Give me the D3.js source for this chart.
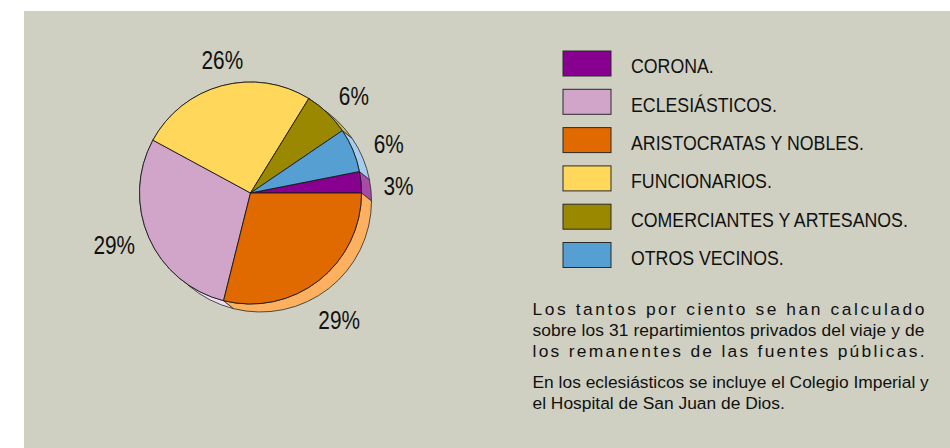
<!DOCTYPE html>
<html>
<head>
<meta charset="utf-8">
<script src="https://cdn.jsdelivr.net/npm/d3@7"></script>
<style>
  html, body { margin: 0; padding: 0; background: #ffffff; }
  svg { display: block; }
  text { font-family: "Liberation Sans", Arial, Helvetica, sans-serif; }
</style>
</head>
<body>
<svg id="chart" width="950" height="448"></svg>
<script>
// ---------- data (legend order) ----------
const categories = ["CORONA.", "ECLESIÁSTICOS.", "ARISTOCRATAS Y NOBLES.", "FUNCIONARIOS.", "COMERCIANTES Y ARTESANOS.", "OTROS VECINOS."];
const values = [3.1, 29.0, 28.9, 25.9, 6.7, 6.4];
const pctLabels = ["3%", "29%", "29%", "26%", "6%", "6%"];
const pieOrder = [2, 1, 3, 4, 5, 0];   // clockwise order of slices starting at 3 o'clock
const noteParagraphs = [
  ["Los tantos por ciento se han calculado",
   "sobre los 31 repartimientos privados del viaje y de",
   "los remanentes de las fuentes públicas."],
  ["En los eclesiásticos se incluye el Colegio Imperial y",
   "el Hospital de San Juan de Dios."]
];

// ---------- styles ----------
const topColors  = ["#87008f", "#d1a5c9", "#e06900", "#ffd75a", "#9a8800", "#559fd2"];
const sideColors = ["#a64ca6", "#ecdcf2", "#fdb060", "#ffe58c", "#c8bb50", "#a9cbec"];

const svg = d3.select("#chart");
const W = 950, H = 448;

// panel background
svg.append("rect").attr("x", 24).attr("y", 11).attr("width", W - 24).attr("height", H - 11)
   .attr("fill", "#cfd0c2");

// ---------- pie ----------
const cx = 250.5, cy = 193, R = 111;
const depth = [10, 8];
const data = values.map((v, i) => ({ i, v }));
const pie = d3.pie().value(d => d.v)
  .sort((a, b) => pieOrder.indexOf(a.i) - pieOrder.indexOf(b.i))
  .startAngle(Math.PI / 2).endAngle(Math.PI / 2 + 2 * Math.PI);
const arcs = pie(data);
const arcGen = d3.arc().innerRadius(0).outerRadius(R);

const g = svg.append("g");
// side walls (extrusion)
const pt = (a, ox, oy) => [cx + ox + R * Math.sin(a), cy + oy - R * Math.cos(a)];
arcs.forEach(a => {
  const p = d3.path();
  const p0 = pt(a.startAngle, 0, 0);
  p.moveTo(p0[0], p0[1]);
  p.arc(cx, cy, R, a.startAngle - Math.PI / 2, a.endAngle - Math.PI / 2, false);
  const p1 = pt(a.endAngle, depth[0], depth[1]);
  p.lineTo(p1[0], p1[1]);
  p.arc(cx + depth[0], cy + depth[1], R, a.endAngle - Math.PI / 2, a.startAngle - Math.PI / 2, true);
  p.closePath();
  g.append("path").attr("d", p.toString())
    .attr("fill", sideColors[a.data.i]).attr("stroke", "#2a2a2a").attr("stroke-width", 0.8)
    .attr("stroke-linejoin", "round");
});
// top faces
g.selectAll("path.top").data(arcs).join("path").attr("class", "top")
  .attr("transform", `translate(${cx},${cy})`)
  .attr("d", arcGen)
  .attr("fill", d => topColors[d.data.i])
  .attr("stroke", "#1a1a1a").attr("stroke-width", 0.9).attr("stroke-linejoin", "round");

// percentage labels
const labelScale = 0.8, labelH = 18, gap = 12, labelRotate = 3 * Math.PI / 180;
arcs.forEach(a => {
  const mid = (a.startAngle + a.endAngle) / 2 + labelRotate;
  const sx = Math.sin(mid), sy = -Math.cos(mid);
  const t = svg.append("text").attr("font-size", 26).attr("fill", "#111")
    .attr("text-anchor", "middle").text(pctLabels[a.data.i]);
  const w = t.node().getComputedTextLength() * labelScale;
  const push = Math.max(0, depth[0] * sx + depth[1] * sy);
  const dist = R + gap + push + Math.abs(sx) * w / 2 + Math.abs(sy) * labelH / 2;
  const x = cx + dist * sx, y = cy + dist * sy + labelH / 2;
  t.attr("transform", `translate(${x},${y}) scale(${labelScale},1)`);
});

// ---------- legend ----------
const legX = 563, legY = 51, legStep = 38.3, boxW = 48, boxH = 25;
const leg = svg.append("g");
categories.forEach((c, i) => {
  const y = legY + i * legStep;
  leg.append("rect").attr("x", legX).attr("y", y).attr("width", boxW).attr("height", boxH)
    .attr("fill", topColors[i]).attr("stroke", "#2a2a2a").attr("stroke-width", 1);
  leg.append("text").attr("font-size", 19.5).attr("fill", "#111")
    .attr("transform", `translate(${legX + 68},${y + 22.3}) scale(0.91,1)`)
    .text(c);
});

// ---------- notes ----------
const noteX = 532.5, noteW = 392, lineH = 21, paraGap = 10;
let by = 315;
noteParagraphs.forEach((para, pi) => {
  para.forEach((line, li) => {
    const t = svg.append("text").attr("x", noteX).attr("y", by)
      .attr("font-size", 17.4).attr("fill", "#111").text(line);
    const nat = t.node().getComputedTextLength();
    if (nat < noteW && nat > 0.7 * noteW) {
      t.attr("textLength", noteW).attr("lengthAdjust", "spacing");
    }
    by += lineH;
  });
  by += paraGap;
});
</script>
</body>
</html>
